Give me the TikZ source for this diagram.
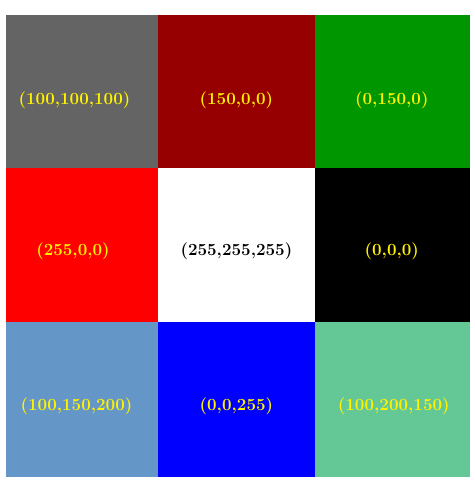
\documentclass[tikz,border=0pt]{standalone}
\usepackage{xcolor}
\usepackage{tikz}
\usetikzlibrary{positioning}

\definecolor{gray100}{RGB}{100,100,100}
\definecolor{red150}{RGB}{150,0,0}
\definecolor{green150}{RGB}{0,150,0}
\definecolor{red255}{RGB}{255,0,0}
\definecolor{white255}{RGB}{255,255,255}
\definecolor{black0}{RGB}{0,0,0}
\definecolor{steel}{RGB}{100,150,200}
\definecolor{blue255}{RGB}{0,0,255}
\definecolor{mint}{RGB}{100,200,150}

\begin{document}
\begin{tikzpicture}[
    x=1pt, y=1pt,
    node distance=0pt,
    cell/.style={inner sep=0pt, minimum height=153.4pt, fill=#1, draw=#1, line width=0.4pt},
    col1/.style={minimum width=152pt},
    col2/.style={minimum width=156pt},
    col3/.style={minimum width=154pt},
    rgb/.style={inner sep=0pt, font=\fontsize{17}{20}\selectfont\bfseries, text=yellow},
    darktext/.style={text=black}
]
\useasboundingbox (0,0) rectangle (474,-481);

% colour cells
\node[cell=gray100, col1] (c11) at (82,-91.5) {};
\node[cell=red150, col2, right=of c11] (c12) {};
\node[cell=green150, col3, right=of c12] (c13) {};
\node[cell=red255, col1, below=of c11] (c21) {};
\node[cell=white255, col2, right=of c21] (c22) {};
\node[cell=black0, col3, right=of c22] (c23) {};
\node[cell=steel, col1, below=of c21] (c31) {};
\node[cell=blue255, col2, right=of c31] (c32) {};
\node[cell=mint, col3, right=of c32] (c33) {};

% rgb values
\node[rgb] (t11) at ([shift={(-7.5,-9)}]c11.center) {(100,100,100)};
\node[rgb] (t12) at ([shift={(0,-9)}]c12.center) {(150,0,0)};
\node[rgb] (t13) at ([shift={(0,-9)}]c13.center) {(0,150,0)};
\node[rgb] (t21) at ([shift={(-9,-6)}]c21.center) {(255,0,0)};
\node[rgb, darktext] (t22) at ([shift={(0,-6)}]c22.center) {(255,255,255)};
\node[rgb] (t23) at ([shift={(0,-6)}]c23.center) {(0,0,0)};
\node[rgb] (t31) at ([shift={(-5.5,-7.5)}]c31.center) {(100,150,200)};
\node[rgb] (t32) at ([shift={(0,-7.5)}]c32.center) {(0,0,255)};
\node[rgb] (t33) at ([shift={(2,-7.5)}]c33.center) {(100,200,150)};
\end{tikzpicture}
\end{document}
